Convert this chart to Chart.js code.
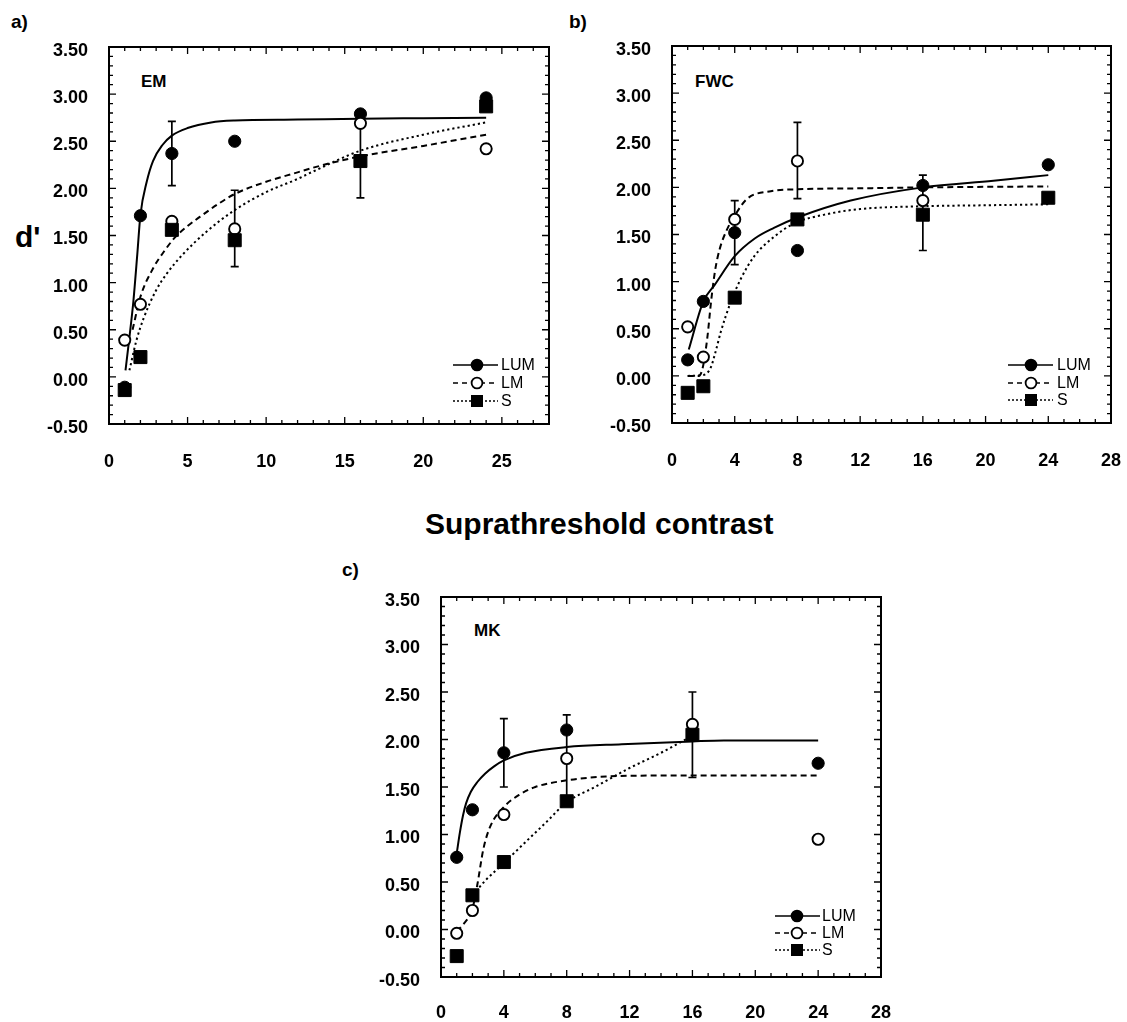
<!DOCTYPE html>
<html>
<head>
<meta charset="utf-8">
<script src="https://cdn.jsdelivr.net/npm/chart.js@4.4.1/dist/chart.umd.min.js"></script>
<style>
  body { margin: 0; background: #fff; width: 1127px; height: 1022px; position: relative; overflow: hidden;
         font-family: "Liberation Sans", Arial, Helvetica, sans-serif; }
  canvas { position: absolute; }
  .lbl { position: absolute; font-weight: bold; color: #000; white-space: nowrap; line-height: 1; }
</style>
</head>
<body>
<div class="lbl" style="left:11px;top:12px;font-size:19px">a)</div>
<div class="lbl" style="left:569px;top:12px;font-size:19px">b)</div>
<div class="lbl" style="left:342px;top:560px;font-size:19px">c)</div>
<div class="lbl" style="left:15px;top:222px;font-size:30px">d'</div>
<div class="lbl" style="left:425px;top:509px;font-size:30px">Suprathreshold contrast</div>
<div class="lbl" style="left:141px;top:73px;font-size:17px">EM</div>
<div class="lbl" style="left:695px;top:73px;font-size:17px">FWC</div>
<div class="lbl" style="left:474px;top:622px;font-size:17px">MK</div>

<canvas id="chartA" width="560" height="490" style="left:0;top:0"></canvas>
<canvas id="chartB" width="567" height="490" style="left:560px;top:0"></canvas>
<canvas id="chartC" width="570" height="482" style="left:330px;top:540px"></canvas>

<script>
// stimulus contrasts (multiples of threshold)
var contrast = [1, 2, 4, 8, 16, 24];
var seriesNames = ['LUM', 'LM', 'S'];
var yTicks = [-0.5, 0, 0.5, 1, 1.5, 2, 2.5, 3, 3.5];
var xTicksEM = [0, 5, 10, 15, 20, 25];
var xTicksFWC = [0, 4, 8, 12, 16, 20, 24, 28];
var xTicksMK = [0, 4, 8, 12, 16, 20, 24, 28];

// a) EM
var emLUM = [-0.11, 1.71, 2.37, 2.50, 2.79, 2.96];
var emLM = [0.39, 0.77, 1.65, 1.57, 2.69, 2.42];
var emS = [-0.14, 0.21, 1.56, 1.45, 2.29, 2.87];
var emErrX = [4, 8, 16];
var emErrLow = [2.03, 1.17, 1.90];
var emErrHigh = [2.71, 1.98, 2.70];
var emFitLUMx = [1.05, 1.3, 1.55, 1.8, 2.0, 2.4, 2.8, 3.4, 4.0, 5.0, 6.5, 8.0, 12, 16, 20, 24];
var emFitLUMy = [0.07, 0.42, 0.80, 1.30, 1.72, 2.07, 2.29, 2.46, 2.56, 2.64, 2.70, 2.72, 2.73, 2.74, 2.745, 2.75];
var emFitLMx = [1.5, 2.0, 2.8, 3.5, 4.2, 5.0, 5.8, 7.0, 8.0, 10, 12, 13, 16, 20, 24];
var emFitLMy = [0.50, 0.85, 1.15, 1.33, 1.48, 1.60, 1.70, 1.84, 1.94, 2.07, 2.17, 2.22, 2.34, 2.45, 2.57];
var emFitSx = [1.3, 1.75, 2.2, 3.0, 3.7, 4.7, 6.2, 8.0, 10, 12, 13, 16, 20, 24];
var emFitSy = [0.07, 0.39, 0.62, 0.92, 1.10, 1.30, 1.54, 1.77, 1.96, 2.10, 2.18, 2.40, 2.57, 2.70];

// b) FWC
var fwcLUM = [0.17, 0.79, 1.52, 1.33, 2.02, 2.24];
var fwcLM = [0.52, 0.20, 1.66, 2.28, 1.86, null];
var fwcS = [-0.18, -0.11, 0.83, 1.66, 1.71, 1.89];
var fwcErrX = [4, 8, 16];
var fwcErrLow = [1.18, 1.88, 1.33];
var fwcErrHigh = [1.86, 2.69, 2.13];
var fwcFitLUMx = [1.07, 2.0, 2.7, 4.0, 5.3, 6.5, 8.0, 11.4, 16, 20.5, 24];
var fwcFitLUMy = [0.28, 0.79, 0.96, 1.27, 1.46, 1.57, 1.68, 1.86, 2.00, 2.07, 2.13];
var fwcFitLMx = [1, 1.7, 1.95, 2.25, 2.5, 2.75, 3.05, 3.5, 4, 4.8, 6.3, 8, 12, 16, 24];
var fwcFitLMy = [0, 0, 0.08, 0.40, 0.80, 1.12, 1.35, 1.55, 1.70, 1.88, 1.96, 1.98, 1.99, 2.0, 2.01];
var fwcFitSx = [1, 2, 2.45, 2.77, 3.1, 3.74, 4.39, 5.25, 6.54, 7.83, 10, 12, 16, 20, 24];
var fwcFitSy = [0, 0.01, 0.08, 0.25, 0.46, 0.78, 1.03, 1.27, 1.48, 1.62, 1.72, 1.77, 1.80, 1.81, 1.82];

// c) MK
var mkLUM = [0.76, 1.26, 1.86, 2.10, null, 1.75];
var mkLM = [-0.04, 0.20, 1.21, 1.80, 2.16, 0.95];
var mkS = [-0.28, 0.36, 0.71, 1.35, 2.05, null];
var mkErrX = [4, 8, 16];
var mkErrLow = [1.50, 1.34, 1.60];
var mkErrHigh = [2.22, 2.26, 2.50];
var mkFitLUMx = [1.0, 1.2, 1.4, 1.6, 1.9, 2.3, 2.8, 3.4, 4.0, 5.4, 8.0, 11.5, 16, 18, 24];
var mkFitLUMy = [0.80, 1.02, 1.20, 1.33, 1.45, 1.55, 1.64, 1.72, 1.78, 1.86, 1.92, 1.95, 1.98, 1.99, 1.99];
var mkFitLMx = [1.0, 1.4, 2.0, 2.3, 2.7, 3.15, 4.0, 5.0, 6.0, 8.0, 10.5, 14, 24];
var mkFitLMy = [-0.02, 0.05, 0.22, 0.46, 0.85, 1.09, 1.29, 1.42, 1.50, 1.57, 1.61, 1.62, 1.62];
var mkFitSx = [2.0, 2.85, 4.0, 5.5, 6.7, 8.0, 9.8, 12, 14, 16];
var mkFitSy = [0.36, 0.52, 0.70, 0.94, 1.13, 1.34, 1.50, 1.70, 1.86, 2.04];

Chart.defaults.font.family = '"Liberation Sans", Arial, Helvetica, sans-serif';
Chart.defaults.color = '#000';

var markerStyles = [
    { pointStyle: 'circle', pointRadius: 6.1, pointBackgroundColor: '#000', pointBorderColor: '#000', pointBorderWidth: 1 },
    { pointStyle: 'circle', pointRadius: 5.6, pointBackgroundColor: '#fff', pointBorderColor: '#000', pointBorderWidth: 1.9 },
    { pointStyle: 'rect', pointRadius: 9.2, pointBackgroundColor: '#000', pointBorderColor: '#000', pointBorderWidth: 1 }
];
var lineDashes = [[], [6, 4], [2.2, 3]];
var keyDashes = [[], [5, 4], [2, 2]];

function pts(xs, ys) {
    return xs.map(function (x, i) { return { x: x, y: ys[i] }; }).filter(function (p) { return p.y !== null; });
}

// box round the plot, with small inward ticks on all four sides
function framePlugin(xMajor) {
    return {
        id: 'frame',
        afterDatasetsDraw: function (chart) {
            var ctx = chart.ctx, a = chart.chartArea, x = chart.scales.x, y = chart.scales.y;
            ctx.save();
            ctx.strokeStyle = '#000';
            ctx.lineWidth = 2;
            ctx.strokeRect(a.left, a.top, a.right - a.left, a.bottom - a.top);
            ctx.lineWidth = 1.3;
            ctx.beginPath();
            for (var v = 1; v < 28; v++) {
                var px = x.getPixelForValue(v);
                var len = v % xMajor === 0 ? 7 : 4;
                ctx.moveTo(px, a.bottom); ctx.lineTo(px, a.bottom - len);
                ctx.moveTo(px, a.top); ctx.lineTo(px, a.top + len);
            }
            for (var k = -4; k < 35; k++) {
                var py = y.getPixelForValue(k / 10);
                var l2 = k % 5 === 0 ? 7 : 4;
                ctx.moveTo(a.left, py); ctx.lineTo(a.left + l2, py);
                ctx.moveTo(a.right, py); ctx.lineTo(a.right - l2, py);
            }
            ctx.stroke();
            ctx.restore();
        }
    };
}

function errorPlugin(ex, lo, hi) {
    return {
        id: 'errbars',
        beforeDatasetsDraw: function (chart) {
            var ctx = chart.ctx, x = chart.scales.x, y = chart.scales.y;
            ctx.save();
            ctx.strokeStyle = '#000';
            ctx.lineWidth = 1.7;
            ctx.beginPath();
            ex.forEach(function (xv, i) {
                var px = x.getPixelForValue(xv);
                var p1 = y.getPixelForValue(lo[i]), p2 = y.getPixelForValue(hi[i]);
                ctx.moveTo(px, p1); ctx.lineTo(px, p2);
                ctx.moveTo(px - 4, p1); ctx.lineTo(px + 4, p1);
                ctx.moveTo(px - 4, p2); ctx.lineTo(px + 4, p2);
            });
            ctx.stroke();
            ctx.restore();
        }
    };
}

function keyPlugin(k) {
    return {
        id: 'key',
        afterDraw: function (chart) {
            var ctx = chart.ctx, a = chart.chartArea;
            ctx.save();
            ctx.font = '16px "Liberation Sans", Arial, sans-serif';
            ctx.textBaseline = 'middle';
            seriesNames.forEach(function (name, i) {
                var yy = a.bottom - k.rows[i];
                var mx = a.right - k.mark;
                ctx.strokeStyle = '#000';
                ctx.lineWidth = 1.7;
                ctx.setLineDash(keyDashes[i]);
                ctx.beginPath();
                ctx.moveTo(a.right - k.from, yy); ctx.lineTo(a.right - k.to, yy);
                ctx.stroke();
                ctx.setLineDash([]);
                if (i === 2) {
                    ctx.fillStyle = '#000';
                    ctx.fillRect(mx - 6, yy - 6, 12, 12);
                } else {
                    ctx.beginPath();
                    ctx.arc(mx, yy, 5.4, 0, Math.PI * 2);
                    ctx.fillStyle = i === 0 ? '#000' : '#fff';
                    ctx.fill();
                    ctx.lineWidth = 1.8;
                    ctx.stroke();
                }
                ctx.fillStyle = '#000';
                ctx.fillText(name, a.right - k.text, yy + 1);
            });
            ctx.restore();
        }
    };
}

function makePanel(id, p) {
    var sets = [];
    // markers: S drawn on top, then LM, then LUM
    [2, 1, 0].forEach(function (s, n) {
        sets.push(Object.assign({
            label: seriesNames[s],
            data: pts(contrast, p.values[s]),
            showLine: false,
            order: n
        }, markerStyles[s]));
    });
    // fitted curves under the markers
    [0, 1, 2].forEach(function (s) {
        sets.push({
            label: seriesNames[s] + ' fit',
            data: pts(p.fitX[s], p.fitY[s]),
            showLine: true,
            borderColor: '#000',
            borderWidth: 2,
            borderDash: lineDashes[s],
            pointRadius: 0,
            cubicInterpolationMode: 'monotone',
            order: 10 + s
        });
    });
    var tickFont = { size: 18, weight: 'bold' };
    return new Chart(document.getElementById(id), {
        type: 'scatter',
        data: { datasets: sets },
        options: {
            responsive: false,
            animation: false,
            events: [],
            layout: { padding: p.pad },
            scales: {
                x: {
                    type: 'linear', min: 0, max: 28,
                    afterBuildTicks: function (s) { s.ticks = p.xTicks.map(function (v) { return { value: v }; }); },
                    afterFit: function (s) { s.height = p.xH; s.paddingLeft = 0; s.paddingRight = 0; },
                    grid: { display: false, drawTicks: false },
                    border: { display: false },
                    ticks: { font: tickFont, color: '#000', padding: p.xPad, maxRotation: 0, autoSkip: false }
                },
                y: {
                    type: 'linear', min: -0.5, max: 3.5,
                    afterBuildTicks: function (s) { s.ticks = yTicks.map(function (v) { return { value: v }; }); },
                    afterFit: function (s) { s.width = p.yW; s.paddingTop = 0; s.paddingBottom = 0; },
                    grid: { display: false, drawTicks: false },
                    border: { display: false },
                    ticks: {
                        font: tickFont, color: '#000', padding: 21, labelOffset: 4, autoSkip: false,
                        callback: function (v) { return Number(v).toFixed(2); }
                    }
                }
            },
            plugins: { legend: { display: false }, tooltip: { enabled: false } }
        },
        plugins: [errorPlugin(p.errX, p.errLo, p.errHi), framePlugin(p.xMajor), keyPlugin(p.key)]
    });
}

makePanel('chartA', {
    values: [emLUM, emLM, emS],
    fitX: [emFitLUMx, emFitLMx, emFitSx], fitY: [emFitLUMy, emFitLMy, emFitSy],
    errX: emErrX, errLo: emErrLow, errHi: emErrHigh,
    xTicks: xTicksEM, xMajor: 5,
    pad: { left: 0, top: 47, right: 11, bottom: 0 }, yW: 109, xH: 66, xPad: 27,
    key: { rows: [59, 41, 23], from: 96, to: 51, mark: 72, text: 48 }
});

makePanel('chartB', {
    values: [fwcLUM, fwcLM, fwcS],
    fitX: [fwcFitLUMx, fwcFitLMx, fwcFitSx], fitY: [fwcFitLUMy, fwcFitLMy, fwcFitSy],
    errX: fwcErrX, errLo: fwcErrLow, errHi: fwcErrHigh,
    xTicks: xTicksFWC, xMajor: 4,
    pad: { left: 0, top: 46, right: 16, bottom: 0 }, yW: 112, xH: 67, xPad: 27,
    key: { rows: [58, 40, 23], from: 103, to: 58, mark: 80, text: 54 }
});

makePanel('chartC', {
    values: [mkLUM, mkLM, mkS],
    fitX: [mkFitLUMx, mkFitLMx, mkFitSx], fitY: [mkFitLUMy, mkFitLMy, mkFitSy],
    errX: mkErrX, errLo: mkErrLow, errHi: mkErrHigh,
    xTicks: xTicksMK, xMajor: 4,
    pad: { left: 0, top: 57, right: 19, bottom: 0 }, yW: 111, xH: 45, xPad: 25,
    key: { rows: [61, 44, 27], from: 106, to: 61, mark: 84, text: 59 }
});
</script>
</body>
</html>
